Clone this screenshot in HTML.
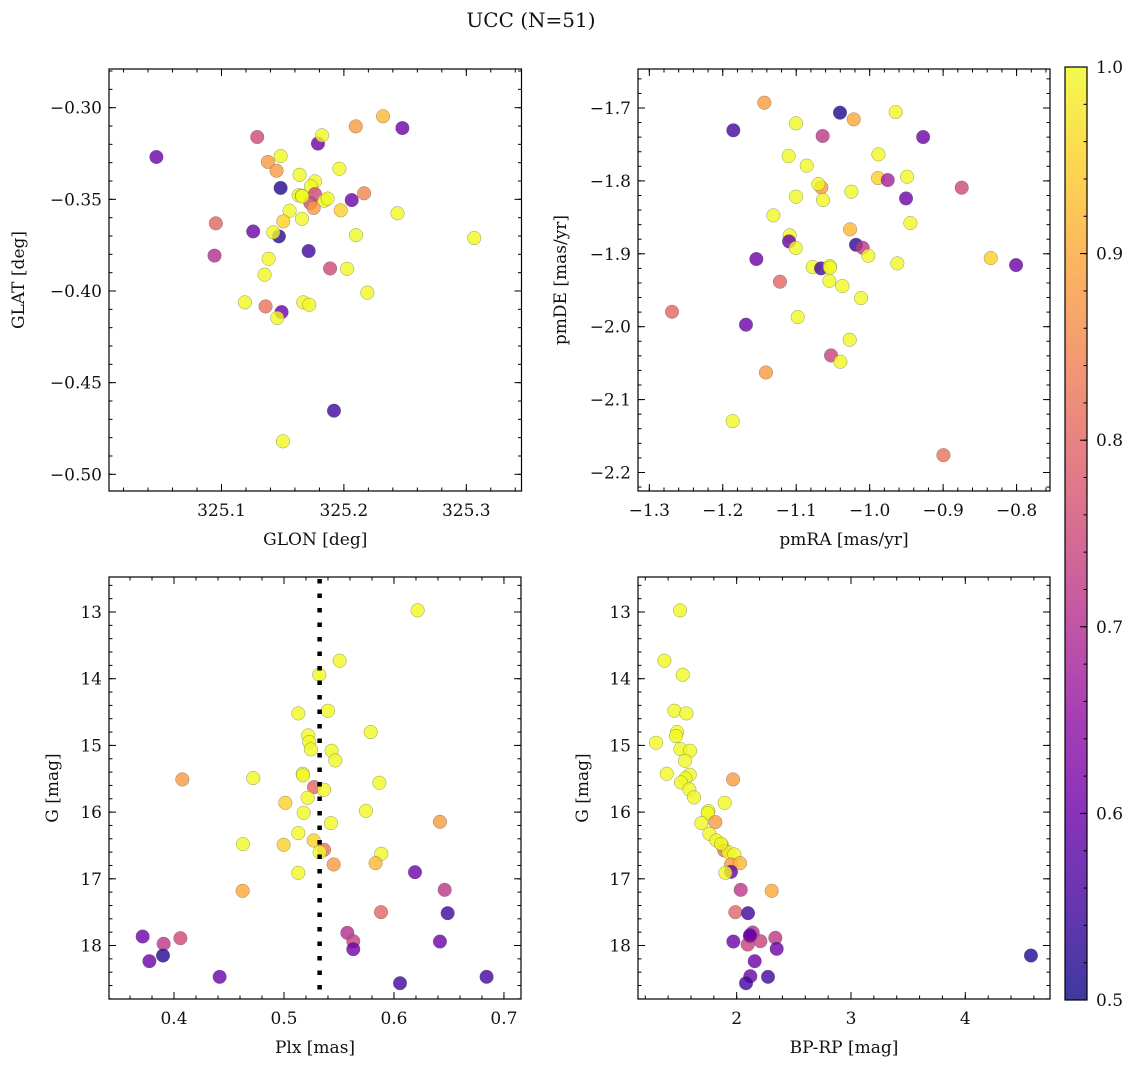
<!DOCTYPE html>
<html><head><meta charset="utf-8">
<style>
html,body{margin:0;padding:0;background:#fff;}
svg{display:block;font-family:"DejaVu Serif","Liberation Serif",serif;}
</style></head>
<body>
<svg id="fig" width="1136" height="1067" viewBox="0 0 1136 1067" xmlns="http://www.w3.org/2000/svg">
<defs>
<linearGradient id="cbgrad" x1="0" y1="1" x2="0" y2="0">
<stop offset="0" stop-color="#cc4778"/>
</linearGradient>
</defs>
<text x="531" y="27" font-size="20" text-anchor="middle" fill="#111">UCC (N=51)</text>
</svg>
<script>
// ---- data ----
const glon=[325.0468,325.1292,325.2097,325.2320,325.2478,325.1788,325.1821,325.1483,325.1379,325.1450,325.1483,325.1638,325.1963,325.1764,325.1731,325.1764,325.1630,325.1655,325.1726,325.1753,325.1840,325.1867,325.2064,325.2165,325.1974,325.2438,325.1556,325.1657,325.1505,325.0954,325.1259,325.1469,325.1423,325.2099,325.3065,325.1712,325.1385,325.0943,325.1887,325.2026,325.1352,325.2192,325.1191,325.1668,325.1717,325.1360,325.1491,325.1456,325.1919,325.1502,325.1660];
const glat=[-0.3269,-0.3160,-0.3102,-0.3047,-0.3111,-0.3196,-0.3151,-0.3264,-0.3296,-0.3344,-0.3438,-0.3366,-0.3333,-0.3402,-0.3429,-0.3471,-0.3478,-0.3480,-0.3520,-0.3547,-0.3507,-0.3496,-0.3504,-0.3467,-0.3560,-0.3576,-0.3562,-0.3606,-0.3620,-0.3631,-0.3675,-0.3702,-0.3680,-0.3695,-0.3711,-0.3782,-0.3824,-0.3807,-0.3877,-0.3879,-0.3911,-0.4009,-0.4062,-0.4062,-0.4075,-0.4084,-0.4115,-0.4147,-0.4653,-0.4820,-0.3484];
const probA=[0.6,0.75,0.88,0.92,0.6,0.6,1,1,0.88,0.88,0.52,1,1,1,1,0.75,1,1,0.75,0.88,1,1,0.6,0.85,0.95,1,1,1,0.95,0.8,0.6,0.53,1,1,1,0.55,1,0.7,0.75,1,1,1,1,1,1,0.82,0.6,1,0.55,1,1];

const pmra=[-1.1434,-1.0404,-1.0217,-0.9645,-1.1856,-1.1003,-1.0640,-0.9272,-1.1103,-1.0857,-0.9881,-0.9886,-0.9754,-0.9491,-0.8747,-1.0658,-1.0699,-1.0249,-1.1003,-1.0635,-0.9505,-1.1311,-0.9446,-1.0267,-1.1089,-1.1098,-1.1007,-1.0186,-1.0095,-1.0018,-1.1543,-0.8352,-0.8007,-0.9623,-1.0776,-1.0662,-1.0544,-1.1221,-1.0549,-1.0372,-1.0118,-1.2691,-1.0980,-1.1684,-1.0272,-1.0526,-1.0399,-1.1412,-1.1865,-0.8996,-1.0540];
const pmde=[-1.6927,-1.7064,-1.7156,-1.7055,-1.7306,-1.7210,-1.7384,-1.7398,-1.7659,-1.7791,-1.7636,-1.7961,-1.7988,-1.7942,-1.8093,-1.8089,-1.8043,-1.8148,-1.8217,-1.8263,-1.8240,-1.8473,-1.8578,-1.8665,-1.8747,-1.8830,-1.8921,-1.8876,-1.8917,-1.9027,-1.9072,-1.9059,-1.9155,-1.9132,-1.9182,-1.9200,-1.9168,-1.9383,-1.9370,-1.9443,-1.9608,-1.9795,-1.9868,-1.9973,-2.0179,-2.0394,-2.0481,-2.0628,-2.1296,-2.1762,-1.9190];
const probB=[0.88,0.52,0.9,1,0.55,1,0.72,0.6,1,1,1,0.95,0.68,1,0.75,0.88,1,1,1,1,0.6,1,1,0.92,1,0.6,1,0.53,0.72,1,0.6,0.95,0.6,1,1,0.55,1,0.8,1,1,1,0.8,1,0.6,1,0.74,1,0.88,1,0.82,1];

const plx=[0.6215,0.5506,0.5321,0.5130,0.5400,0.5788,0.5221,0.5230,0.5245,0.5433,0.5467,0.4076,0.4721,0.5170,0.5173,0.5867,0.5273,0.5364,0.5215,0.5012,0.5745,0.5179,0.5427,0.6418,0.5130,0.5270,0.4627,0.4997,0.5364,0.5324,0.5885,0.5833,0.5452,0.5130,0.6191,0.4624,0.6461,0.5882,0.6488,0.3715,0.5576,0.5630,0.5630,0.4058,0.3906,0.6418,0.3900,0.3776,0.4415,0.6055,0.6842];
const gmagC=[12.975,13.73,13.94,14.52,14.48,14.80,14.85,14.95,15.06,15.08,15.225,15.51,15.49,15.425,15.45,15.56,15.625,15.665,15.785,15.86,15.98,16.01,16.165,16.145,16.315,16.425,16.48,16.49,16.565,16.60,16.625,16.765,16.785,16.91,16.90,17.18,17.165,17.50,17.515,17.865,17.81,17.935,18.055,17.89,17.975,17.94,18.15,18.235,18.47,18.565,18.47];
const probC=[1,1,1,1,1,1,1,1,1,1,1,0.88,1,1,1,1,0.8,1,1,0.95,1,1,1,0.88,1,0.95,1,0.95,0.82,1,1,0.92,0.88,1,0.6,0.9,0.72,0.8,0.55,0.6,0.7,0.74,0.6,0.75,0.72,0.6,0.52,0.6,0.6,0.55,0.55];
const plxRef=[0.5324];

const bprp=[1.5044,1.3673,1.5277,1.4548,1.5598,1.4781,1.4694,1.2945,1.5073,1.5918,1.5481,1.3878,1.5889,1.5510,1.5131,1.9679,1.5860,1.6268,1.8950,1.7522,1.7464,1.8134,1.6910,1.7609,1.8222,1.8688,1.8921,1.9271,1.9796,1.9504,2.0292,1.9504,1.9009,2.0350,2.3061,1.9883,2.0991,2.1399,2.1166,2.2070,2.0962,2.3382,1.9708,2.3499,4.5743,2.1574,2.1195,2.2741,2.0816,2.1166,1.8630];
const gmagD=[12.975,13.73,13.94,14.48,14.52,14.80,14.86,14.96,15.055,15.08,15.23,15.425,15.44,15.495,15.555,15.51,15.66,15.78,15.86,15.985,16.015,16.15,16.165,16.325,16.425,16.49,16.575,16.60,16.635,16.785,16.765,16.895,16.91,17.165,17.18,17.50,17.515,17.805,17.865,17.935,17.985,17.885,17.94,18.05,18.15,18.235,18.46,18.47,18.565,17.845,16.475];
const probD=[1,1,1,1,1,1,1,1,1,1,1,1,1,1,1,0.88,1,1,1,1,1,0.88,1,1,1,0.95,0.82,1,1,0.88,0.92,0.6,1,0.72,0.9,0.8,0.55,0.7,0.6,0.74,0.74,0.72,0.6,0.6,0.52,0.6,0.6,0.55,0.55,0.6,1];

const cbTicks=[0.5,0.6,0.7,0.8,0.9,1.0];

// ---- helpers ----
const NS="http://www.w3.org/2000/svg";
const svg=document.getElementById('fig');
function mk(tag,attrs,parent){const e=document.createElementNS(NS,tag);for(const k in attrs)e.setAttribute(k,attrs[k]);(parent||svg).appendChild(e);return e;}
const plasma=[[13,8,135],[65,4,157],[106,0,168],[143,13,164],[177,42,144],[204,71,120],[225,100,98],[242,132,75],[252,166,54],[252,206,37],[240,249,33]];
function cmap(v){let t=(v-0.5)/0.5;t=Math.max(0,Math.min(1,t));const f=t*10;const i=Math.min(9,Math.floor(f));const r=f-i;const a=plasma[i],b=plasma[i+1];
 return 'rgb('+[0,1,2].map(k=>Math.round(a[k]+(b[k]-a[k])*r)).join(',')+')';}
function fmt(v,d){const s=Math.abs(v).toFixed(d);return (v<-1e-9?'\u2212':'')+s;}
const FS=17;

function panel(id,box,xr,yr,xt,xminor,yt,yminor,xd,yd,xlabel,ylabel,ylabX){
 const [L,T,R,B]=box;
 const sx=v=>L+(v-xr[0])/(xr[1]-xr[0])*(R-L);
 const sy=v=>T+(yr[1]-v)/(yr[1]-yr[0])*(B-T);
 const g=mk('g',{});
 
 
 const clip=mk('clipPath',{id:'clip-'+id},g);mk('rect',{x:L,y:T,width:R-L,height:B-T},clip);
 const marks=mk('g',{'clip-path':'url(#clip-'+id+')'},g);
 
 
 const tg=mk('g',{stroke:'#000','stroke-width':1},g);
 
 
 const eps=1e-9;
 function xtick(v,len){const x=sx(v);mk('line',{x1:x,y1:B,x2:x,y2:B-len},tg);mk('line',{x1:x,y1:T,x2:x,y2:T+len},tg);}
 function ytick(v,len){const y=sy(v);mk('line',{x1:L,y1:y,x2:L+len,y2:y},tg);mk('line',{x1:R,y1:y,x2:R-len,y2:y},tg);}
 let s=Math.ceil((xr[0]-eps)/xminor);for(let v=s*xminor;v<=xr[1]+eps;v+=xminor)xtick(v,3.5);
 s=Math.ceil((yr[0]-eps)/yminor);for(let v=s*yminor;v<=yr[1]+eps;v+=yminor)ytick(v,3.5);
 xt.forEach(v=>{xtick(v,7);const t=mk('text',{x:sx(v),y:B+25,'font-size':FS,'text-anchor':'middle',fill:'#111'},g);t.textContent=fmt(v,xd);});
 yt.forEach(v=>{ytick(v,7);const t=mk('text',{x:L-7,y:sy(v)+6,'font-size':FS,'text-anchor':'end',fill:'#111'},g);t.textContent=fmt(v,yd);});
 mk('rect',{x:L,y:T,width:R-L,height:B-T,fill:'none',stroke:'#000','stroke-width':1.2},g);
 const xl=mk('text',{x:(L+R)/2,y:B+54,'font-size':FS,'text-anchor':'middle',fill:'#111'},g);xl.textContent=xlabel;
 
 
 const yl=mk('text',{x:ylabX,y:(T+B)/2,'font-size':FS,'text-anchor':'middle',fill:'#111',transform:'rotate(-90 '+ylabX+' '+(T+B)/2+')'},g);yl.textContent=ylabel;
 
 
 return {sx,sy,marks};
}
function scatter(p,xs,ys,ps){
 xs.forEach((x,i)=>{const c=mk('circle',{cx:p.sx(x),cy:p.sy(ys[i]),r:6.8,fill:cmap(ps[i]),'fill-opacity':0.8,stroke:'#555','stroke-opacity':0.6,'stroke-width':0.5},p.marks);
  
  });
}

const p1=panel('glon-glat',[109,69,521.5,491],[325.0081,325.3451],[-0.5091,-0.2789],[325.1,325.2,325.3],0.02,[-0.50,-0.45,-0.40,-0.35,-0.30],0.01,1,2,'GLON [deg]','GLAT [deg]',24);
scatter(p1,glon,glat,probA);
const p2=panel('pm',[638,69,1050,491],[-1.3154,-0.7545],[-2.2254,-1.6465],[-1.3,-1.2,-1.1,-1.0,-0.9,-0.8],0.02,[-2.2,-2.1,-2.0,-1.9,-1.8,-1.7],0.02,1,1,'pmRA [mas/yr]','pmDE [mas/yr]',566);
scatter(p2,pmra,pmde,probB);
const p3=panel('plx-g',[109,577,521,999],[0.3409,0.7155],[-18.802,-12.475],[0.4,0.5,0.6,0.7],0.02,[],0.2,1,0,'Plx [mas]','G [mag]',58);
const p4=panel('cmd',[638,577,1050,999],[1.1365,4.741],[-18.802,-12.475],[2,3,4],0.2,[],0.2,0,0,'BP-RP [mag]','G [mag]',588);
[[p3,109],[p4,638]].forEach(([p,L])=>{[13,14,15,16,17,18].forEach(v=>{const y=p.sy(-v);
 mk('line',{x1:L,y1:y,x2:L+7,y2:y,stroke:'#000'});mk('line',{x1:L+412,y1:y,x2:L+405,y2:y,stroke:'#000'});
 const t=mk('text',{x:L-7,y:y+6,'font-size':FS,'text-anchor':'end',fill:'#111'});t.textContent=String(v);
 
 });});
scatter(p3,plx,gmagC.map(v=>-v),probC);
const ref=mk('line',{x1:p3.sx(plxRef[0]),y1:579,x2:p3.sx(plxRef[0]),y2:999,stroke:'#000','stroke-width':4.5,'stroke-dasharray':'4.5 10'});


scatter(p4,bprp,gmagD.map(v=>-v),probD);

const cbT=67,cbB=1000,cbL=1065,cbR=1087;
const grad=document.getElementById('cbgrad');grad.innerHTML='';
for(let i=0;i<=20;i++){mk('stop',{offset:i/20,'stop-color':cmap(0.5+i/40),'stop-opacity':0.8},grad);}
const cb=mk('rect',{x:cbL,y:cbT,width:cbR-cbL,height:cbB-cbT,fill:'url(#cbgrad)',stroke:'#000','stroke-width':1.2});


const cy=v=>cbB-(v-0.5)/0.5*(cbB-cbT);
for(let v=0.52;v<1;v+=0.02){mk('line',{x1:cbR,y1:cy(v),x2:cbR-3.5,y2:cy(v),stroke:'#000'});}
cbTicks.forEach(v=>{mk('line',{x1:cbR,y1:cy(v),x2:cbR-7,y2:cy(v),stroke:'#000'});
 const t=mk('text',{x:cbR+9,y:cy(v)+6,'font-size':FS,fill:'#111'});t.textContent=v.toFixed(1);
 
 });
</script>
</body></html>
